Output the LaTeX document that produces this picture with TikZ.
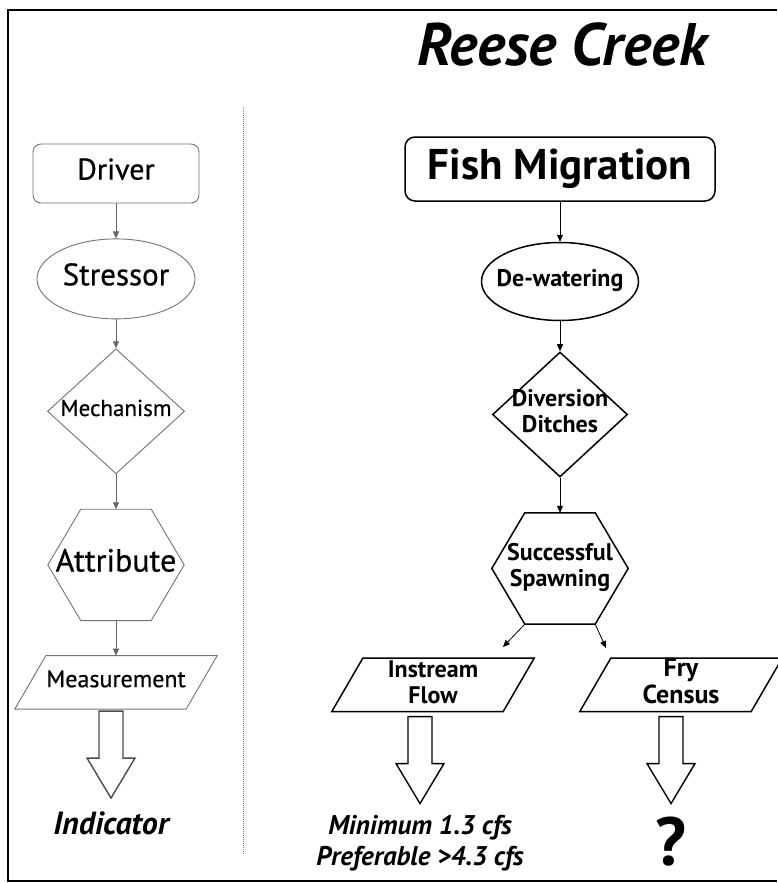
\documentclass[tikz,border=0pt]{standalone}
\usepackage{fontspec}
\setmainfont{PT Sans}
\newfontfamily\midfont[FakeBold=0.6]{PT Sans}
\usetikzlibrary{shapes,arrows.meta,positioning}

% text that does not widen its shape
\newcommand{\ctext}[1]{\makebox[0pt]{\begin{tabular}{@{}c@{}}#1\end{tabular}}}
% outlines drawn round an empty box node
\newcommand{\hexpath}[1]{([xshift=33pt]#1.north west) -- ([xshift=-33pt]#1.north east) -- (#1.east)
  -- ([xshift=-33pt]#1.south east) -- ([xshift=33pt]#1.south west) -- (#1.west) -- cycle}
\newcommand{\parapath}[1]{([xshift=31pt]#1.north west) -- (#1.north east)
  -- ([xshift=-31pt]#1.south east) -- (#1.south west) -- cycle}

\tikzset{
  pics/hollow/.style={code={
    \draw[line width=1.4pt, #1] (-12,0) -- (-12,47) -- (-24,47) -- (0,87) -- (24,47) -- (12,47) -- (12,0) -- cycle;
    \coordinate (-tip) at (0,87);
  }},
  pics/hollow/.default=black
}

\begin{document}
\begin{tikzpicture}[x=1pt, y=-1pt,
  lshape/.style={draw=black!55, line width=0.9pt, inner sep=0pt},
  rshape/.style={draw=black, line width=1.5pt, inner sep=0pt},
  para/.style={minimum width=202pt, minimum height=53pt, inner sep=0pt},
  hexa/.style={minimum width=136pt, minimum height=111pt, inner sep=0pt},
  arr/.style={-{Triangle[length=7pt,width=6pt]}, line width=0.8pt},
  lt/.style={font=\fontsize{#1}{#1}\midfont\selectfont},
  bf/.style={font=\fontsize{#1}{26}\bfseries\selectfont},
  bf/.default=24
]
  \useasboundingbox (0,0) rectangle (778,883);
  \draw[line width=2pt] (777,10) -- (8,10) -- (8,881) -- (777,881);
  \draw[black!50, line width=1pt, densely dotted] (243,107) -- (243,855);

  \node[font=\fontsize{60}{60}\bfseries\itshape\selectfont] (title) at (562,45) {Reese Creek};

  % left: the general model
  \node[lshape, rounded corners=8pt, minimum width=166pt, minimum height=59pt,
    lt=30] (dr) at (116,173.5) {\ctext{Driver}};
  \node[lshape, ellipse, minimum width=158pt, minimum height=80pt,
    lt=31, below=35pt of dr] (st) {\ctext{Stressor}};
  \node[lshape, diamond, minimum width=137pt, minimum height=125pt,
    lt=23, below=29pt of st] (me) {\ctext{Mechanism}};
  \node[hexa, lt=32, below=35pt of me] (atb) {\ctext{Attribute}};
  \draw[lshape] \hexpath{atb};
  \node[para, lt=24, below=35pt of atb] (ms) {\ctext{Measurement}};
  \draw[lshape] \parapath{ms};
  \pic (msa) at ([xshift=-5pt, yshift=-2pt]ms.south) {hollow=black!70};
  \node[font=\fontsize{32}{32}\bfseries\itshape\selectfont, below=10pt of msa-tip] (ind) {Indicator};

  \draw[arr, black!60] (dr) -- (st);
  \draw[arr, black!60] (st) -- (me);
  \draw[arr, black!60] (me) -- (atb);
  \draw[arr, black!60] (atb) -- (ms);

  % right: Reese Creek
  \node[rshape, rounded corners=10pt, minimum width=310pt, minimum height=64pt,
    bf=43] (fm) at (560,169) {\ctext{Fish Migration}};
  \node[rshape, ellipse, minimum width=157pt, minimum height=78pt, bf,
    below=40pt of fm] (dw) {\ctext{De-watering}};
  \node[rshape, diamond, minimum width=135pt, minimum height=125pt, bf,
    below=30pt of dw] (dd) {\ctext{Diversion\\Ditches}};
  \node[hexa, bf, below=35pt of dd] (sp) {\ctext{Successful\\Spawning}};
  \draw[rshape] \hexpath{sp};
  \node[para, bf, below=34pt of sp, xshift=-127pt] (if) {\ctext{Instream\\Flow}};
  \draw[rshape] \parapath{if};
  \node[para, bf=26, below=34pt of sp, xshift=121pt] (fc) {\ctext{Fry\\Census}};
  \draw[rshape] \parapath{fc};
  \coordinate (ifend) at (503,647);
  \coordinate (fcend) at (606,648);
  \pic (ifa) at ([xshift=-13pt, yshift=-5pt]if.south) {hollow};
  \pic (fca) at ([xshift=-10pt, yshift=-5pt]fc.south) {hollow};
  \node[align=center, font=\fontsize{27}{31}\bfseries\itshape\selectfont,
    below=8pt of ifa-tip] (val) {Minimum 1.3 cfs\\Preferable >4.3 cfs};
  \node[font=\fontsize{68}{68}\bfseries\selectfont, below=10pt of fca-tip] (q) {?};

  \draw[arr] (fm) -- (dw);
  \draw[arr] (dw) -- (dd);
  \draw[arr] (dd) -- (sp);
  \draw[arr] ([xshift=33pt]sp.south west) -- (ifend);
  \draw[arr] ([xshift=-33pt]sp.south east) -- (fcend);
\end{tikzpicture}
\end{document}
